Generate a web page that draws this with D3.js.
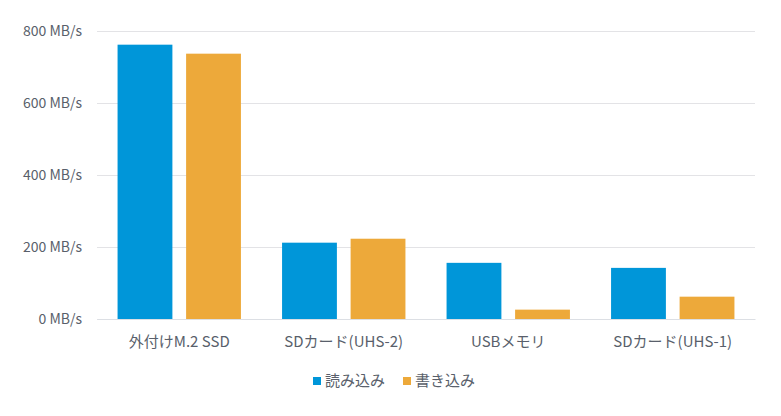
<html>
<head>
  <meta charset="utf-8">
  <script src="https://d3js.org/d3.v7.min.js"></script>
  <style>
    body { margin: 0; background: #fff; }
    text { font-family: "Noto Sans CJK JP", "Noto Sans", sans-serif; fill: #595f6b; }
  </style>
</head>
<body>
<script>
  var categories = ["外付けM.2 SSD", "SDカード(UHS-2)", "USBメモリ", "SDカード(UHS-1)"];
  var seriesNames = ["読み込み", "書き込み"];
  var readValues = [762, 212, 156, 142];
  var writeValues = [737, 223, 26, 62];
  var yTicks = [0, 200, 400, 600, 800];
  var colors = ["#0096d9", "#eda93a"];

  var width = 781, height = 416;
  var margin = {top: 31, right: 26, bottom: 97, left: 97};
  var innerW = width - margin.left - margin.right,
      innerH = height - margin.top - margin.bottom;

  var svg = d3.select("body").append("svg")
      .attr("width", width)
      .attr("height", height);
  var g = svg.append("g")
      .attr("transform", "translate(" + margin.left + "," + margin.top + ")");

  var x0 = d3.scaleBand().domain(categories).range([0, innerW])
      .paddingInner(0.25).paddingOuter(0.125);
  var x1 = d3.scaleBand().domain(seriesNames).range([0, x0.bandwidth()])
      .paddingInner(0.2);
  var y = d3.scaleLinear().domain([0, 800]).range([innerH, 0]);

  // grid lines + y labels
  var yAxis = g.append("g")
      .call(d3.axisLeft(y).tickValues(yTicks).tickSize(-innerW)
        .tickFormat(function(d) { return d + " MB/s"; }));
  yAxis.select(".domain").remove();
  yAxis.selectAll("line").attr("stroke", "#e3e3e6");
  yAxis.selectAll("text").attr("x", -15).attr("dy", "0.35em")
      .style("font-size", "14px").attr("fill", "#595f6b");

  var rows = categories.map(function(c, i) {
    return {cat: c, vals: [readValues[i], writeValues[i]]};
  });

  var groups = g.selectAll(".grp").data(rows).enter().append("g")
      .attr("transform", function(d) { return "translate(" + x0(d.cat) + ",0)"; });
  groups.selectAll("rect").data(function(d) {
      return d.vals.map(function(v, j) { return {s: seriesNames[j], v: v, j: j}; });
    }).enter().append("rect")
      .attr("x", function(d) { return x1(d.s); })
      .attr("y", function(d) { return y(d.v); })
      .attr("width", x1.bandwidth())
      .attr("height", function(d) { return innerH - y(d.v); })
      .attr("fill", function(d) { return colors[d.j]; });

  // x labels
  var xAxis = g.append("g").attr("transform", "translate(0," + innerH + ")")
      .call(d3.axisBottom(x0).tickSize(0));
  xAxis.select(".domain").attr("stroke", "#dcdfe4");
  xAxis.selectAll("text").attr("y", 22.5).attr("dy", "0.35em")
      .style("font-size", "15px").attr("fill", "#595f6b");

  // legend
  var legend = svg.append("g").attr("transform", "translate(313,381)");
  var items = legend.selectAll("g").data(seriesNames).enter().append("g")
      .attr("transform", function(d, i) { return "translate(" + (i * 90) + ",0)"; });
  items.append("rect").attr("x", 0).attr("y", -4).attr("width", 8).attr("height", 8)
      .attr("fill", function(d, i) { return colors[i]; });
  items.append("text").attr("x", 12).attr("dy", "0.35em")
      .style("font-size", "15px").text(function(d) { return d; });
</script>
</body>
</html>
